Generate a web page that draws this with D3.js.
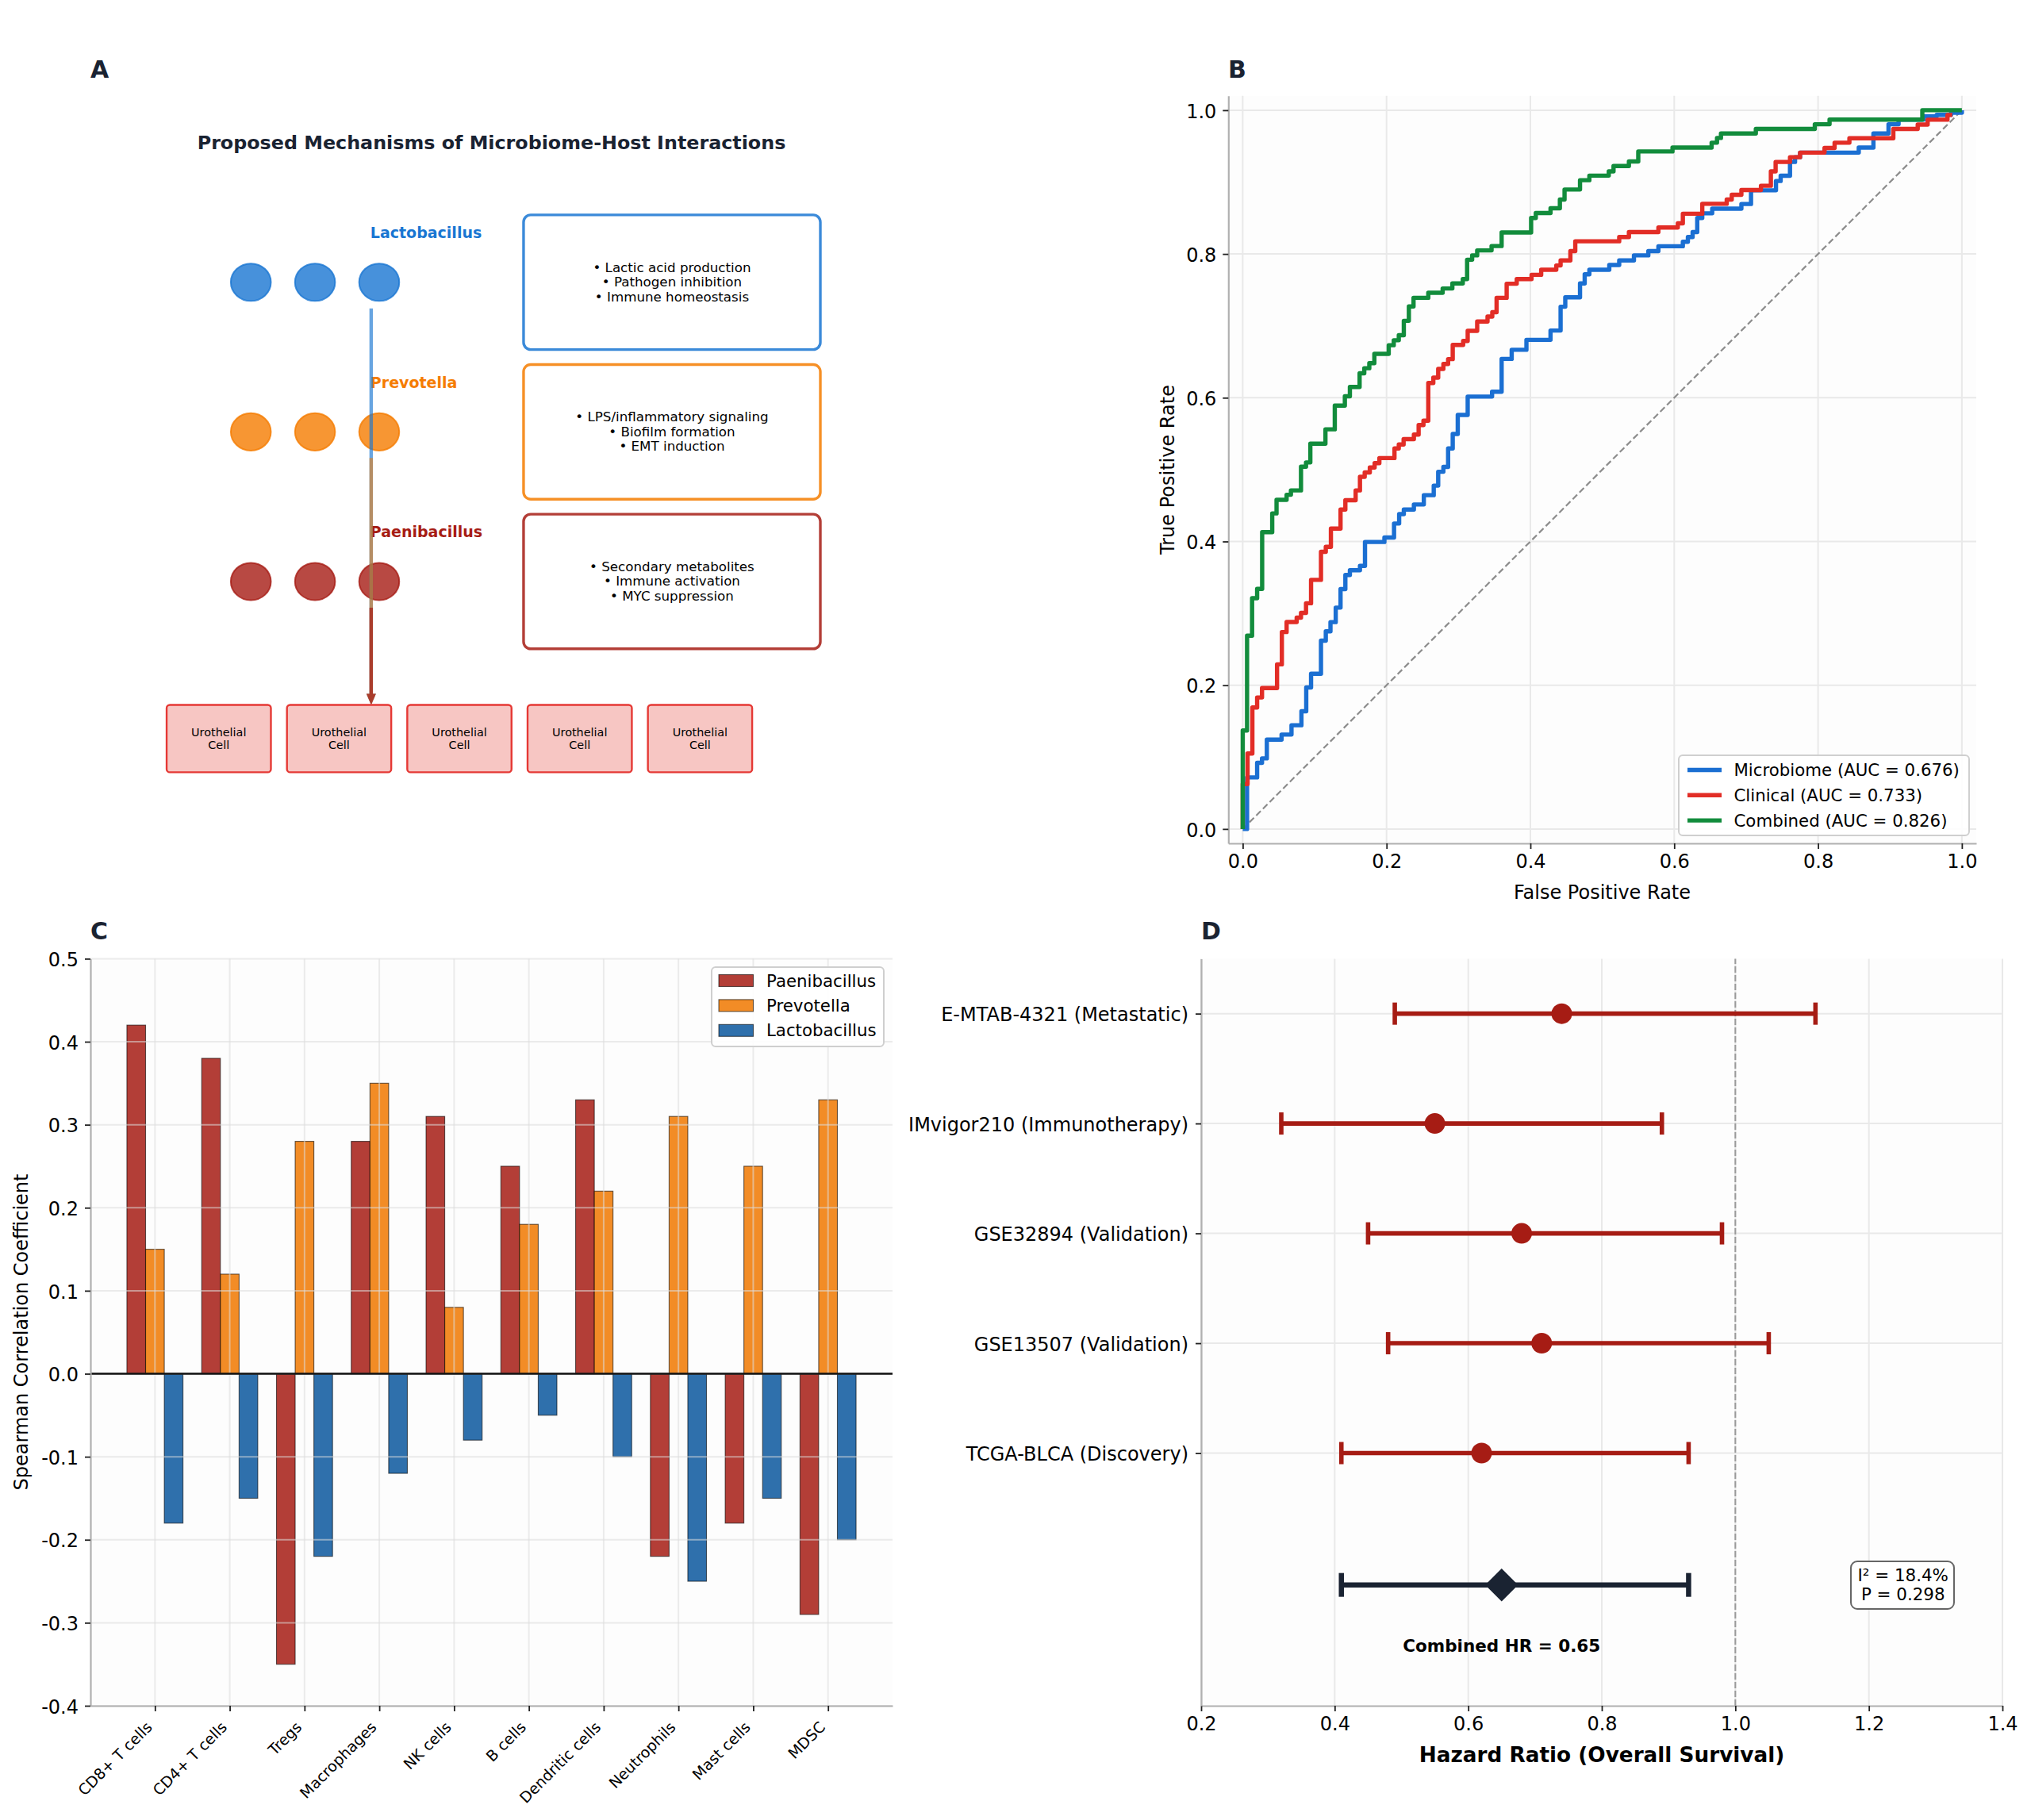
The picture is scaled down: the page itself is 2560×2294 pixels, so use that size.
<!DOCTYPE html>
<html>
<head>
<meta charset="utf-8">
<title>Microbiome figure</title>
<script src="https://cdn.jsdelivr.net/npm/d3@7"></script>
<style>
  html, body { margin: 0; padding: 0; background: #fff; }
  svg { display: block; }
  text { font-family: "DejaVu Sans", sans-serif; fill: #000; }
</style>
</head>
<body>
<svg id="fig" width="2560" height="2294"></svg>
<script>
// --- palette
const DARK = "#1a2332";
const BLUE = "#1976d2", ORANGE = "#f57c00", RED = "#a61c14";
const SPINE = "#b0b0b0", GRID = "#e9e9e9", PANEL_BG = "#fdfdfd";
const LABEL_SIZE = 24;

// --- panel A: mechanism schematic
const taxa = ["Lactobacillus", "Prevotella", "Paenibacillus"];
const taxaColors = [BLUE, ORANGE, RED];
const taxaY = [7.5, 5.5, 3.5];
const arrowAlpha = [0.65, 0.55, 0.7];
const dotX = [2, 2.8, 3.6];
const mechanisms = [
  ["• Lactic acid production", "• Pathogen inhibition", "• Immune homeostasis"],
  ["• LPS/inflammatory signaling", "• Biofilm formation", "• EMT induction"],
  ["• Secondary metabolites", "• Immune activation", "• MYC suppression"],
];
const cellX = [0.95, 2.45, 3.95, 5.45, 6.95];

// --- panel B: ROC step vertices (fpr, tpr)
const rocNames = ["Microbiome (AUC = 0.676)", "Clinical (AUC = 0.733)", "Combined (AUC = 0.826)"];
const rocColors = ["#1b6fd2", "#e22d26", "#128c3c"];
const microFpr = [0, .006, .006, .020, .0268, .0335, .054, .0678, .0816, .0883, .095, .1088, .1155, .122, .1293, .136, .1427, .149, .163, .17, .197, .2104, .2175, .224, .238, .2518, .2656, .2718, .279, .2856, .292, .299, .3128, .3467, .360, .374, .3945, .428, .442, .4485, .469, .4755, .482, .5097, .5235, .544, .564, .578, .612, .619, .6256, .632, .639, .6528, .6934, .7068, .7415, .748, .761, .768, .775, .8566, .877, .898, .912, .947, .965, .985, 1];
const microTpr = [0, .012, .0717, .092, .0982, .1244, .1314, .1443, .1638, .1969, .216, .262, .275, .2878, .308, .3338, .3533, .36, .366, .3993, .4055, .425, .438, .4445, .4515, .4644, .4777, .497, .5037, .5294, .5495, .576, .6016, .6083, .654, .6667, .6805, .6935, .7266, .7397, .759, .7717, .778, .7846, .791, .798, .804, .8107, .817, .8235, .8305, .85, .8566, .863, .8695, .8886, .9015, .9088, .928, .9346, .941, .948, .9676, .9805, .987, .9915, .9935, .9965, 1];
const clinFpr = [0, 0, .0067, .0134, .020, .0268, .0477, .0544, .061, .075, .081, .088, .095, .1088, .1155, .1226, .136, .1427, .157, .163, .1696, .1767, .1834, .190, .211, .217, .2237, .238, .2446, .2513, .258, .265, .2718, .279, .2856, .292, .3065, .3128, .326, .3404, .347, .353, .367, .381, .4016, .415, .436, .442, .4556, .4624, .5235, .537, .578, .605, .612, .639, .673, .680, .6934, .7206, .7344, .741, .761, .775, .809, .823, .8436, .9047, .9386, .9524, .98];
const clinTpr = [0, .0625, .105, .169, .183, .196, .229, .274, .288, .294, .3006, .314, .3466, .3856, .3926, .418, .4445, .4574, .471, .490, .496, .503, .509, .516, .5294, .535, .5424, .5487, .562, .568, .6205, .628, .640, .647, .6537, .6734, .679, .693, .706, .713, .719, .739, .7586, .765, .771, .778, .784, .791, .804, .8176, .8235, .8305, .8368, .8426, .856, .8698, .8757, .8824, .889, .8949, .915, .928, .9346, .941, .9474, .9548, .961, .974, .980, .9868, .9934];
const clinEnd = [.9867];
const combFpr = [0, .006, .013, .020, .027, .041, .047, .061, .067, .081, .088, .094, .115, .128, .142, .149, .1625, .169, .176, .183, .203, .21, .217, .224, .231, .2375, .258, .278, .2915, .306, .312, .319, .326, .346, .360, .401, .4075, .428, .441, .4475, .469, .482, .509, .5156, .537, .550, .5976, .652, .6595, .665, .7135, .7955, .816, .945, 1];
const combTpr = [.137, .269, .321, .334, .413, .439, .458, .465, .471, .504, .510, .536, .556, .589, .602, .615, .634, .641, .648, .661, .673, .680, .687, .707, .727, .739, .746, .752, .759, .765, .792, .798, .805, .811, .830, .850, .857, .8636, .8757, .8897, .9026, .909, .915, .9224, .9287, .9426, .948, .9548, .9614, .9676, .974, .9805, .987, 1, 1];

// --- panel C: Spearman correlations
const cellTypes = ["CD8+ T cells", "CD4+ T cells", "Tregs", "Macrophages", "NK cells", "B cells", "Dendritic cells", "Neutrophils", "Mast cells", "MDSC"];
const barSeries = ["Paenibacillus", "Prevotella", "Lactobacillus"];
const barColors = ["#a61c14", "#f07800", "#0b579d"];
const paeniVals = [.42, .38, -.35, .28, .31, .25, .33, -.22, -.18, -.29];
const prevoVals = [.15, .12, .28, .35, .08, .18, .22, .31, .25, .33];
const lactoVals = [-.18, -.15, -.22, -.12, -.08, -.05, -.10, -.25, -.15, -.20];
const barVals = [paeniVals, prevoVals, lactoVals];

// --- panel D: forest plot
const studies = ["TCGA-BLCA (Discovery)", "GSE13507 (Validation)", "GSE32894 (Validation)", "IMvigor210 (Immunotherapy)", "E-MTAB-4321 (Metastatic)"];
const studyHR = [.62, .71, .68, .55, .74];
const studyLo = [.41, .48, .45, .32, .49];
const studyHi = [.93, 1.05, .98, .89, 1.12];
const combinedRow = [-1.2];
const combinedHR = [.65], combinedLo = [.41], combinedHi = [.93];

const svg = d3.select("#fig");
// matplotlib prints a plain hyphen for negatives
const fmt1 = (d) => d3.format(".1f")(d).replace("−", "-");

// Apply the matplotlib-ish look to a d3 axis group.
function styleAxis(g, fontSize) {
  g.select(".domain").attr("stroke", SPINE).attr("stroke-width", 2.2);
  g.selectAll(".tick line").attr("stroke", "#222").attr("stroke-width", 1.8);
  g.selectAll(".tick text").attr("font-size", fontSize).attr("fill", "#000");
  return g;
}

// Left axes sit a touch lower than d3's default baseline.
function leftAxis(g, fontSize) {
  styleAxis(g, fontSize);
  g.selectAll(".tick text").attr("dy", "0.38em");
  return g;
}

function panelRect(x, y) {
  svg.append("rect")
    .attr("x", x.range()[0]).attr("width", x.range()[1] - x.range()[0])
    .attr("y", y.range()[1]).attr("height", y.range()[0] - y.range()[1])
    .attr("fill", PANEL_BG);
}

function grid(x, y, xTicks, yTicks) {
  const g = svg.append("g").attr("stroke", GRID).attr("stroke-width", 2);
  g.selectAll(".gx").data(xTicks).join("line")
    .attr("x1", d => x(d)).attr("x2", d => x(d))
    .attr("y1", y.range()[0]).attr("y2", y.range()[1]);
  g.selectAll(".gy").data(yTicks).join("line")
    .attr("y1", d => y(d)).attr("y2", d => y(d))
    .attr("x1", x.range()[0]).attr("x2", x.range()[1]);
  return g;
}

function panelLabel(t, x, y) {
  svg.append("text").text(t).attr("x", x).attr("y", y)
    .attr("dominant-baseline", "central")
    .attr("font-size", 30).attr("font-weight", "bold").style("fill", DARK);
}

function multiline(sel, lines, x, y, dy) {
  const t = sel.append("text").attr("text-anchor", "middle");
  lines.forEach((s, i) => {
    t.append("tspan").text(s).attr("x", x)
      .attr("y", y + (i - (lines.length - 1) / 2) * dy)
      .attr("dominant-baseline", "central");
  });
  return t;
}

panelLabel("A", 114, 87);
panelLabel("B", 1548, 87);
panelLabel("C", 114, 1173);
panelLabel("D", 1514, 1173);

// ---------- panel A
{
  const x = d3.scaleLinear().domain([0, 10]).range([114, 1125]);
  const y = d3.scaleLinear().domain([0, 10]).range([1063, 120]);
  const g = svg.append("g");

  g.append("text").text("Proposed Mechanisms of Microbiome-Host Interactions")
    .attr("x", x(5)).attr("y", 179.5).attr("text-anchor", "middle")
    .attr("dominant-baseline", "central")
    .attr("font-size", 23.8).attr("font-weight", "bold").style("fill", DARK);

  taxa.forEach((name, i) => {
    const c = taxaColors[i], cy = taxaY[i];
    g.selectAll(null).data(dotX).join("ellipse")
      .attr("cx", d => x(d)).attr("cy", y(cy))
      .attr("rx", x(0.25) - x(0)).attr("ry", y(0) - y(0.25))
      .attr("fill", c).attr("fill-opacity", 0.8)
      .attr("stroke", c).attr("stroke-opacity", 0.8).attr("stroke-width", 2);
    g.append("text").text(name)
      .attr("x", x(3.5) - 1).attr("y", y(cy + 0.66) - 0.5).attr("dominant-baseline", "central")
      .attr("font-size", 19).attr("font-weight", "bold").style("fill", c);
    g.append("rect")
      .attr("x", x(5.4)).attr("width", x(9.1) - x(5.4))
      .attr("y", y(cy + 0.9)).attr("height", y(cy - 0.9) - y(cy + 0.9))
      .attr("rx", 9).attr("ry", 9)
      .attr("fill", "#fff").attr("stroke", c).attr("stroke-opacity", 0.85).attr("stroke-width", 3.4);
    multiline(g, mechanisms[i], x(7.25), y(cy) - 0.5, 18.6).attr("font-size", 16.7);
  });

  // arrows run into the cell row, one over the other
  const arrowEnd = 1.85;
  taxa.forEach((name, i) => {
    const a = g.append("g").attr("opacity", arrowAlpha[i]);
    const head = y(arrowEnd);
    const col = taxaColors[i];
    a.append("line").attr("x1", x(3.5)).attr("x2", x(3.5))
      .attr("y1", y(taxaY[i] - 0.35)).attr("y2", head - 6)
      .attr("stroke", col).attr("stroke-width", 4.4);
    a.append("path")
      .attr("d", `M${x(3.5)},${head} l-6,-14 l12,0 Z`)
      .attr("fill", col);
  });

  cellX.forEach(cx => {
    g.append("rect")
      .attr("x", x(cx)).attr("width", x(cx + 1.3) - x(cx))
      .attr("y", y(1.85)).attr("height", y(0.95) - y(1.85))
      .attr("rx", 4).attr("ry", 4)
      .attr("fill", "#f7c6c3").attr("stroke", "#e53935").attr("stroke-width", 2.4);
    multiline(g, ["Urothelial", "Cell"], x(cx + 0.65), y(1.4), 15.5).attr("font-size", 14.4);
  });
}

// ---------- panel B
{
  const x = d3.scaleLinear().domain([-0.02, 1.02]).range([1548.3, 2491]);
  const y = d3.scaleLinear().domain([-0.02, 1.02]).range([1063, 120.8]);
  const ticks = [0, .2, .4, .6, .8, 1];
  panelRect(x, y);
  grid(x, y, ticks, ticks);

  svg.append("line")
    .attr("x1", x(0)).attr("y1", y(0)).attr("x2", x(1)).attr("y2", y(1))
    .attr("stroke", "#8c8c8c").attr("stroke-width", 2.2).attr("stroke-dasharray", "8 4");

  const line = d3.line().x(d => x(d[0])).y(d => y(d[1])).curve(d3.curveStepAfter);
  const curves = [
    d3.zip(microFpr, microTpr),
    d3.zip(clinFpr.concat(clinEnd), clinTpr.concat(clinTpr[clinTpr.length - 1])),
    d3.zip([0].concat(combFpr), [0].concat(combTpr)),
  ];
  curves.forEach((pts, i) => {
    svg.append("path").datum(pts).attr("d", line)
      .attr("fill", "none").attr("stroke", rocColors[i]).attr("stroke-width", 5.4)
      .attr("stroke-linejoin", "round");
  });

  styleAxis(svg.append("g").attr("transform", `translate(0,${y.range()[0]})`)
    .call(d3.axisBottom(x).tickValues(ticks).tickFormat(fmt1).tickSizeInner(7).tickSizeOuter(0).tickPadding(7)), LABEL_SIZE);
  leftAxis(svg.append("g").attr("transform", `translate(${x.range()[0]},0)`)
    .call(d3.axisLeft(y).tickValues(ticks).tickFormat(fmt1).tickSizeInner(7).tickSizeOuter(0).tickPadding(8)), LABEL_SIZE);

  svg.append("text").text("False Positive Rate").attr("x", 2019.5).attr("y", 1125)
    .attr("text-anchor", "middle").attr("dominant-baseline", "central").attr("font-size", LABEL_SIZE);
  svg.append("text").text("True Positive Rate")
    .attr("transform", "translate(1472,592) rotate(-90)")
    .attr("text-anchor", "middle").attr("dominant-baseline", "central").attr("font-size", LABEL_SIZE);

  const lg = svg.append("g").attr("transform", "translate(2116,952)");
  lg.append("rect").attr("width", 366).attr("height", 101).attr("rx", 5)
    .attr("fill", "#fff").attr("fill-opacity", 0.9).attr("stroke", "#cfcfcf").attr("stroke-width", 2);
  rocNames.forEach((n, i) => {
    const ly = 18.5 + i * 31.8;
    lg.append("line").attr("x1", 11).attr("x2", 54).attr("y1", ly).attr("y2", ly)
      .attr("stroke", rocColors[i]).attr("stroke-width", 5.4);
    lg.append("text").text(n).attr("x", 69.5).attr("y", ly)
      .attr("dominant-baseline", "central").attr("font-size", 21.3);
  });
}

// ---------- panel C
{
  const x = d3.scalePoint().domain(cellTypes).range([114, 1125]).padding(0.8625);
  const y = d3.scaleLinear().domain([-0.4, 0.5]).range([2150, 1208.4]);
  const sub = d3.scaleBand().domain(barSeries).range([-1.5 * 0.25 * x.step(), 1.5 * 0.25 * x.step()]);
  const yTicks = d3.range(-4, 6).map(d => d / 10);
  panelRect(x, y);

  barSeries.forEach((s, i) => {
    svg.append("g").selectAll("rect").data(barVals[i]).join("rect")
      .attr("x", (d, j) => x(cellTypes[j]) + sub(s))
      .attr("width", sub.bandwidth())
      .attr("y", d => y(Math.max(d, 0)))
      .attr("height", d => Math.abs(y(d) - y(0)))
      .attr("fill", barColors[i]).attr("fill-opacity", 0.85)
      .attr("stroke", "#000").attr("stroke-opacity", 0.6).attr("stroke-width", 1.1);
  });
  grid(x, y, cellTypes, yTicks).attr("stroke", "#dcdcdc").attr("stroke-opacity", 0.55);

  svg.append("line").attr("x1", x.range()[0]).attr("x2", x.range()[1])
    .attr("y1", y(0)).attr("y2", y(0)).attr("stroke", "#111").attr("stroke-width", 2.4);

  const ax = styleAxis(svg.append("g").attr("transform", `translate(0,${y.range()[0]})`)
    .call(d3.axisBottom(x).tickSizeInner(7).tickSizeOuter(0)), 19);
  ax.selectAll(".tick text")
    .attr("text-anchor", "end").attr("dy", null).attr("y", null)
    .attr("dominant-baseline", "hanging")
    .attr("transform", "translate(-13,18) rotate(-45)");
  leftAxis(svg.append("g").attr("transform", `translate(${x.range()[0]},0)`)
    .call(d3.axisLeft(y).tickValues(yTicks).tickFormat(fmt1).tickSizeInner(7).tickSizeOuter(0).tickPadding(8)), LABEL_SIZE);

  svg.append("text").text("Spearman Correlation Coefficient")
    .attr("transform", "translate(27,1679) rotate(-90)")
    .attr("text-anchor", "middle").attr("dominant-baseline", "central").attr("font-size", LABEL_SIZE);

  const lg = svg.append("g").attr("transform", "translate(897,1219)");
  lg.append("rect").attr("width", 217).attr("height", 100).attr("rx", 5)
    .attr("fill", "#fff").attr("fill-opacity", 0.9).attr("stroke", "#cfcfcf").attr("stroke-width", 2);
  barSeries.forEach((s, i) => {
    const ly = 17 + i * 31.4;
    lg.append("rect").attr("x", 9).attr("y", ly - 7.5).attr("width", 43.5).attr("height", 15)
      .attr("fill", barColors[i]).attr("fill-opacity", 0.85)
      .attr("stroke", "#000").attr("stroke-opacity", 0.6).attr("stroke-width", 1.1);
    lg.append("text").text(s).attr("x", 69).attr("y", ly)
      .attr("dominant-baseline", "central").attr("font-size", 21.3);
  });
}

// ---------- panel D
{
  const x = d3.scaleLinear().domain([0.2, 1.4]).range([1514, 2524]);
  const y = d3.scaleLinear().domain([-2.3, 4.5]).range([2150, 1208.4]);
  const xTicks = [.2, .4, .6, .8, 1, 1.2, 1.4];
  const rows = d3.range(studies.length);
  panelRect(x, y);
  grid(x, y, xTicks, rows);

  svg.append("line").attr("x1", x(1)).attr("x2", x(1))
    .attr("y1", y.range()[0]).attr("y2", y.range()[1])
    .attr("stroke", "#9a9a9a").attr("stroke-width", 2).attr("stroke-dasharray", "8 3");

  const errorBar = (g, row, lo, hi, col, w, cap) => {
    g.append("line").attr("x1", x(lo)).attr("x2", x(hi)).attr("y1", y(row)).attr("y2", y(row))
      .attr("stroke", col).attr("stroke-width", w);
    [lo, hi].forEach(v => g.append("line").attr("x1", x(v)).attr("x2", x(v))
      .attr("y1", y(row) - cap).attr("y2", y(row) + cap)
      .attr("stroke", col).attr("stroke-width", w));
  };
  rows.forEach(i => {
    const g = svg.append("g");
    errorBar(g, i, studyLo[i], studyHi[i], RED, 5.6, 14);
    g.append("circle").attr("cx", x(studyHR[i])).attr("cy", y(i)).attr("r", 13).attr("fill", RED);
  });
  const cg = svg.append("g");
  errorBar(cg, combinedRow[0], combinedLo[0], combinedHi[0], DARK, 6.5, 15);
  cg.append("path")
    .attr("d", d3.symbol(d3.symbolDiamond2, 1100))
    .attr("transform", `translate(${x(combinedHR[0])},${y(combinedRow[0])})`)
    .attr("fill", DARK);

  svg.append("text").text("Combined HR = 0.65")
    .attr("x", x(combinedHR[0])).attr("y", y(-1.75) + 1).attr("text-anchor", "middle")
    .attr("dominant-baseline", "central").attr("font-size", 21.5).attr("font-weight", "bold");

  svg.append("rect").attr("x", 2333).attr("y", 1968).attr("width", 130).attr("height", 60)
    .attr("rx", 8).attr("fill", "#fff").attr("stroke", "#666").attr("stroke-width", 2);
  multiline(svg, ["I² = 18.4%", "P = 0.298"], x(1.25) + 1, y(-1.2) - 0.5, 24).attr("font-size", 21.4);

  styleAxis(svg.append("g").attr("transform", `translate(0,${y.range()[0]})`)
    .call(d3.axisBottom(x).tickValues(xTicks).tickFormat(fmt1).tickSizeInner(7).tickSizeOuter(0).tickPadding(7)), LABEL_SIZE);
  leftAxis(svg.append("g").attr("transform", `translate(${x.range()[0]},0)`)
    .call(d3.axisLeft(y).tickValues(rows).tickFormat(i => studies[i]).tickSizeInner(7).tickSizeOuter(0).tickPadding(9)), LABEL_SIZE);

  svg.append("text").text("Hazard Ratio (Overall Survival)").attr("x", x(0.8)).attr("y", 2212)
    .attr("text-anchor", "middle").attr("dominant-baseline", "central")
    .attr("font-size", 26.3).attr("font-weight", "bold");
}
</script>
</body>
</html>
